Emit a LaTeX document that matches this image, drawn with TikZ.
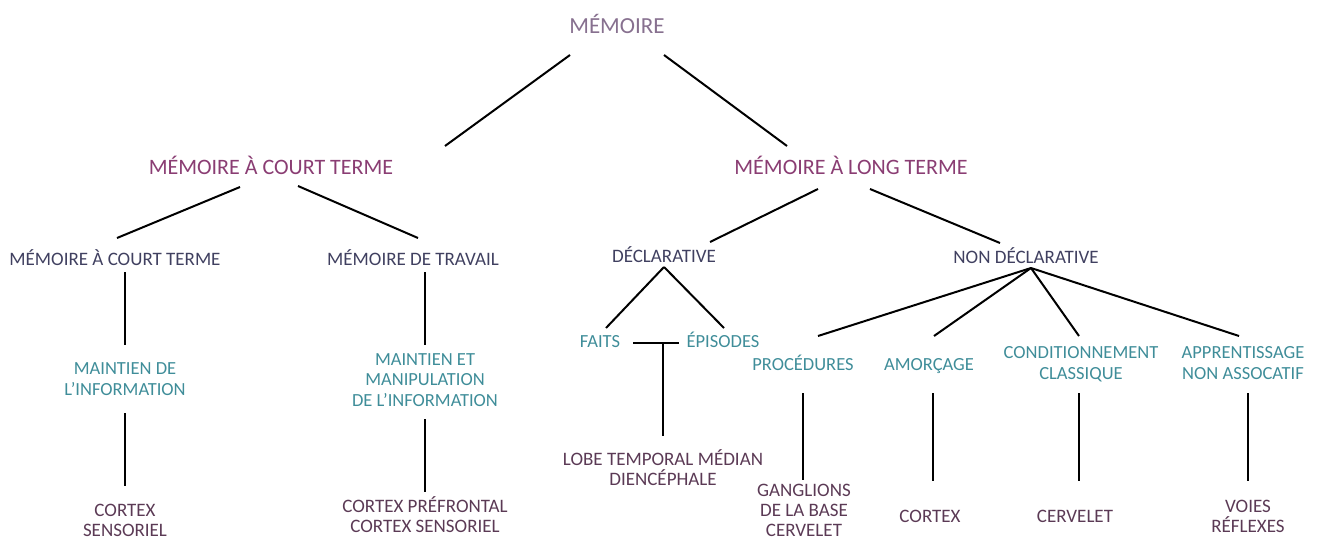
\documentclass[tikz,border=0pt]{standalone}
\usepackage{fontspec}
\setmainfont{Carlito}
\usetikzlibrary{calc}
\definecolor{mmtop}{HTML}{87708F}
\definecolor{mmplum}{HTML}{8A3D73}
\definecolor{mmslate}{HTML}{404060}
\definecolor{mmteal}{HTML}{3F8D99}
\definecolor{mmwine}{HTML}{5B3A55}
\newcommand{\mmya}{33}
\newcommand{\mmyb}{174}
\newcommand{\mmyc}{265}
\newcommand{\mmyd}{370}
\newcommand{\mmye}{379}
\newcommand{\mmyf}{522}
\tikzset{
  lvltop/.style={text=mmtop,font=\fontsize{23}{26}\selectfont},
  lvlplum/.style={text=mmplum,font=\fontsize{22}{25}\selectfont},
  lvlslate/.style={text=mmslate,font=\fontsize{19}{21}\selectfont},
  lvlteal/.style={text=mmteal,align=center,font=\fontsize{18.5}{20.5}\selectfont},
  lvlwine/.style={text=mmwine,align=center,font=\fontsize{19}{20}\selectfont},
  branch/.style={draw=black,line width=2pt}
}
\begin{document}
\begin{tikzpicture}[x=1pt,y=-1pt,anchor=base,inner sep=0pt]
    \useasboundingbox (0,0) rectangle (1317,541);

    \node (mem) at (617, \mmya) [lvltop] {MÉMOIRE};
    \node (mct) at (271, \mmyb) [lvlplum] {MÉMOIRE À COURT TERME};
    \node (mlt) at (851, \mmyb) [lvlplum] {MÉMOIRE À LONG TERME};

    \node (stm) at (115, \mmyc) [lvlslate] {MÉMOIRE À COURT TERME};
    \node (trav) at (413, \mmyc) [lvlslate] {MÉMOIRE DE TRAVAIL};
    \node (decl) at (664, 262) [lvlslate] {DÉCLARATIVE};
    \node (ndecl) at (1026, 263) [lvlslate] {NON DÉCLARATIVE};

    % multi-line nodes sit on their last baseline
    \node (mainfo) at (125, 395) [lvlteal] {MAINTIEN DE\\L’INFORMATION};
    \node (manip) at (425, 406) [lvlteal] {MAINTIEN ET\\MANIPULATION\\DE L’INFORMATION};
    \node (faits) at (600, 347) [lvlteal] {FAITS};
    \node (episo) at (723, 347) [lvlteal] {ÉPISODES};
    \node (proc) at (803, \mmyd) [lvlteal] {PROCÉDURES};
    \node (amorc) at (929, \mmyd) [lvlteal] {AMORÇAGE};
    \node (condi) at (1081, \mmye) [lvlteal] {CONDITIONNEMENT\\CLASSIQUE};
    \node (appre) at (1243, \mmye) [lvlteal] {APPRENTISSAGE\\NON ASSOCATIF};

    \node (cxsens) at (125, 536) [lvlwine] {CORTEX\\SENSORIEL};
    \node (cxpref) at (425, 532) [lvlwine] {CORTEX PRÉFRONTAL\\CORTEX SENSORIEL};
    \node (lobe) at (663, 485) [lvlwine] {LOBE TEMPORAL MÉDIAN\\DIENCÉPHALE};
    \node (gangl) at (804, 536) [lvlwine] {GANGLIONS\\DE LA BASE\\CERVELET};
    \node (cortex) at (930, \mmyf) [lvlwine] {CORTEX};
    \node (cerv) at (1075, \mmyf) [lvlwine] {CERVELET};
    \node (voies) at (1248, 532) [lvlwine] {VOIES\\RÉFLEXES};

    % top of the tree
    \draw[branch] ($(mem.base)+(-47,22)$) -- ($(mct.base)+(174,-28)$);
    \draw[branch] ($(mem.base)+(47,22)$) -- ($(mlt.base)+(-64,-28)$);
    \draw[branch] ($(mct.base)+(-31,13)$) -- ($(stm.base)+(2,-27)$);
    \draw[branch] ($(mct.base)+(27,12)$) -- ($(trav.base)+(5,-27)$);
    \draw[branch] ($(mlt.base)+(-33,15)$) -- ($(decl.base)+(46,-20)$);
    \draw[branch] ($(mlt.base)+(19,15)$) -- ($(ndecl.base)+(-26,-20)$);

    % short term side
    \draw[branch] ($(mainfo.base |- stm.base)+(0,7)$) -- ($(mainfo.base)+(0,-50)$);
    \draw[branch] ($(mainfo.base)+(0,18)$) -- ($(cxsens.base)+(0,-50)$);
    \draw[branch] ($(manip.base |- trav.base)+(0,7)$) -- ($(manip.base)+(0,-61)$);
    \draw[branch] ($(manip.base)+(0,13)$) -- ($(cxpref.base)+(0,-40)$);

    % declarative
    \draw[branch] ($(decl.base)+(0,5)$) -- ($(faits.base)+(6,-19)$);
    \draw[branch] ($(decl.base)+(0,5)$) -- ($(episo.base)+(1,-19)$);
    \draw[branch] ($(faits.base)+(33,-4)$) -- ($(episo.base)+(-44,-4)$);
    \draw[branch] ($(lobe.base |- faits.base)+(0,-4)$) -- ($(lobe.base)+(0,-49)$);

    % non declarative
    \draw[branch] ($(ndecl.base)+(5,5)$) -- ($(proc.base)+(15,-34)$);
    \draw[branch] ($(ndecl.base)+(5,5)$) -- ($(amorc.base)+(5,-34)$);
    \draw[branch] ($(ndecl.base)+(5,5)$) -- ($(condi.base)+(-2,-43)$);
    \draw[branch] ($(ndecl.base)+(5,5)$) -- ($(appre.base)+(-4,-43)$);
    \draw[branch] ($(proc.base)+(0,23)$) -- ($(proc.base |- gangl.base)+(0,-56)$);
    \draw[branch] ($(amorc.base)+(4,23)$) -- ($(amorc.base |- cortex.base)+(4,-41)$);
    \draw[branch] ($(condi.base)+(-2,14)$) -- ($(condi.base |- cerv.base)+(-2,-41)$);
    \draw[branch] ($(appre.base)+(5,14)$) -- ($(appre.base |- voies.base)+(5,-51)$);
  \end{tikzpicture}
\end{document}
